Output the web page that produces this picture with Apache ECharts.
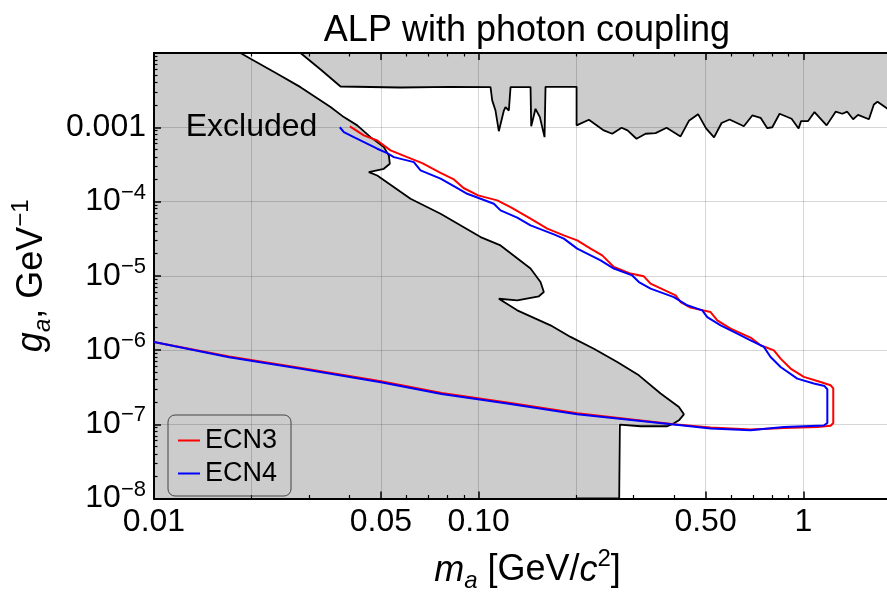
<!DOCTYPE html>
<html><head><meta charset="utf-8">
<script src="https://cdn.jsdelivr.net/npm/echarts@6/dist/echarts.min.js"></script>
<style>html,body{margin:0;padding:0;background:#fff}#c{width:887px;height:592px}</style>
</head><body><div id="c"></div>
<script>
const FONT = '"Liberation Sans", Arial, Helvetica, sans-serif';

// ---- axis ranges / ticks ----
const X_MIN = 0.01, X_MAX = 2, Y_MIN = 1e-8, Y_MAX = 1e-2;
const xMajorTicks = [0.01, 0.05, 0.1, 0.5, 1];
const xMajorLabels = ['0.01', '0.05', '0.10', '0.50', '1'];
const xMinorTicks = [0.02, 0.03, 0.04, 0.06, 0.07, 0.08, 0.09, 0.2, 0.3, 0.4, 0.6, 0.7, 0.8, 0.9];
const xGridValues = [0.02, 0.05, 0.1, 0.2, 0.5, 1, 2];
const yMajorTicks = [1e-8, 1e-7, 1e-6, 1e-5, 1e-4, 1e-3, 1e-2];
const yLabelValues = [1e-8, 1e-7, 1e-6, 1e-5, 1e-4, 1e-3];
const yMinorTicks = [];
for (let e = -8; e <= -3; e++) for (let k = 2; k <= 9; k++) yMinorTicks.push(k * Math.pow(10, e));

// ---- excluded region (left), boundary from top edge down to bottom ----
const leftM = [0.01847, 0.01983, 0.02396, 0.02827, 0.03498, 0.03844, 0.04227, 0.04645, 0.05105, 0.05289,
  0.05326, 0.05105, 0.04589, 0.04871, 0.06168, 0.07633, 0.1014, 0.1168, 0.1445, 0.1551,
  0.1588, 0.1533, 0.1315, 0.1154, 0.1315, 0.1665, 0.1919, 0.2264, 0.2673, 0.3116,
  0.3635, 0.4140, 0.4288, 0.4140, 0.3948, 0.3811, 0.3154, 0.2723, 0.2698, 0.2710, 0.2003];
const leftG = [1e-2, 8.36e-3, 5.25e-3, 3.47e-3, 1.87e-3, 1.37e-3, 1.06e-3, 7.36e-4, 5.40e-4, 4.17e-4,
  3.23e-4, 2.76e-4, 2.49e-4, 2.24e-4, 1.09e-4, 6.85e-5, 3.32e-5, 2.56e-5, 1.25e-5, 8.22e-6,
  6.04e-6, 5.29e-6, 4.67e-6, 4.9e-6, 3.42e-6, 2.15e-6, 1.50e-6, 1.04e-6, 6.89e-7, 4.56e-7,
  2.59e-7, 1.71e-7, 1.36e-7, 1.13e-7, 1.0e-7, 9.4e-8, 9.4e-8, 9.9e-8, 1.04e-7, 1e-8, 1e-8];
const leftCloseM = [0.01, 0.01];
const leftCloseG = [1e-8, 1e-2];

// ---- excluded region (top), lower boundary from left to right ----
const topM = [0.02827, 0.0326, 0.03755, 0.05745, 0.08195, 0.1088, 0.1101, 0.1127, 0.1154, 0.1196,
  0.1210, 0.1239, 0.1254, 0.1445, 0.1452, 0.1497, 0.1544, 0.1596, 0.1607, 0.2003,
  0.2003, 0.2186, 0.2430, 0.2579, 0.2756, 0.2875, 0.3064, 0.3268, 0.3508, 0.3793,
  0.4188, 0.4443, 0.4742, 0.5018, 0.5311, 0.5602, 0.5929, 0.6561, 0.6965, 0.7387,
  0.7747, 0.8027, 0.8453, 0.9204, 0.9674, 0.9845, 1.035, 1.083, 1.180, 1.258,
  1.319, 1.366, 1.424, 1.475, 1.593, 1.650, 1.693, 1.818];
const topG = [1e-2, 6.0e-3, 3.54e-3, 3.43e-3, 3.5e-3, 3.47e-3, 2.30e-3, 1.68e-3, 8.85e-4, 1.68e-3,
  1.87e-3, 1.68e-3, 3.47e-3, 3.47e-3, 1.03e-3, 1.77e-3, 1.37e-3, 7.36e-4, 3.5e-3, 3.5e-3,
  1.06e-3, 1.26e-3, 9.06e-4, 8.18e-4, 9.84e-4, 9.06e-4, 7.0e-4, 8.18e-4, 8.33e-4, 9.84e-4,
  7.52e-4, 1.22e-3, 1.50e-3, 9.64e-4, 7.30e-4, 1.14e-3, 1.27e-3, 1.03e-3, 1.44e-3, 1.34e-3,
  9.70e-4, 1.0e-3, 1.52e-3, 1.30e-3, 9.64e-4, 1.21e-3, 1.21e-3, 1.60e-3, 1.06e-3, 1.62e-3,
  1.52e-3, 1.62e-3, 1.28e-3, 1.47e-3, 1.28e-3, 2.03e-3, 2.20e-3, 1.77e-3];
const topCloseM = [1.818];
const topCloseG = [1e-2];

// ---- ECN3 sensitivity contour ----
const ecn3M = [0.04011, 0.04429, 0.04871, 0.05353, 0.06026, 0.06703, 0.07633, 0.08390, 0.08985, 0.09958,
  0.1141, 0.1254, 0.1445, 0.1627, 0.1830, 0.2012, 0.2212, 0.2403, 0.2609, 0.2938,
  0.3228, 0.3385, 0.4044, 0.4188, 0.4496, 0.5182, 0.5434, 0.5971, 0.6882, 0.7387,
  0.8120, 0.8513, 0.9140, 1.004, 1.130, 1.214, 1.237, 1.237, 1.214, 1.104,
  0.8713, 0.6882, 0.5182, 0.3994, 0.2012, 0.1210, 0.0769, 0.0500, 0.0290, 0.01704, 0.01];
const ecn3G = [1.026e-3, 7.76e-4, 6.64e-4, 4.88e-4, 3.96e-4, 3.29e-4, 2.43e-4, 1.98e-4, 1.52e-4, 1.21e-4,
  1.035e-4, 8.41e-5, 5.86e-5, 4.31e-5, 3.50e-5, 2.99e-5, 2.32e-5, 1.88e-5, 1.31e-5, 1.07e-5,
  9.82e-6, 7.84e-6, 5.45e-6, 4.43e-6, 3.72e-6, 3.24e-6, 2.51e-6, 1.94e-6, 1.47e-6, 1.16e-6,
  9.9e-7, 7.65e-7, 5.62e-7, 4.34e-7, 3.71e-7, 3.35e-7, 3.05e-7, 1.04e-7, 9.55e-8, 9.2e-8,
  8.9e-8, 8.49e-8, 9.03e-8, 1.0e-7, 1.41e-7, 1.98e-7, 2.64e-7, 3.79e-7, 5.64e-7, 8.15e-7, 1.28e-6];

// ---- ECN4 sensitivity contour ----
const ecn4M = [0.03736, 0.03844, 0.04126, 0.04871, 0.05229, 0.05480, 0.06316, 0.06622, 0.07633, 0.08490,
  0.09223, 0.1014, 0.1114, 0.1168, 0.1315, 0.1445, 0.1705, 0.1830, 0.2012, 0.2375,
  0.2609, 0.2973, 0.3116, 0.3385, 0.3994, 0.4392, 0.4885, 0.5062, 0.5564, 0.6262,
  0.6882, 0.7562, 0.7929, 0.8513, 0.9583, 1.078, 1.163, 1.186, 1.186, 1.157,
  0.8713, 0.6882, 0.5182, 0.3994, 0.2012, 0.1210, 0.0769, 0.0500, 0.0290, 0.01704, 0.01];
const ecn4G = [1.0e-3, 8.59e-4, 7.36e-4, 5.14e-4, 4.48e-4, 3.96e-4, 3.39e-4, 2.62e-4, 2.03e-4, 1.56e-4,
  1.27e-4, 1.09e-4, 9.33e-5, 7.59e-5, 6.05e-5, 4.76e-5, 3.61e-5, 3.16e-5, 2.32e-5, 1.61e-5,
  1.25e-5, 1.01e-5, 8.22e-6, 6.70e-6, 5.16e-6, 4.00e-6, 3.42e-6, 2.78e-6, 2.15e-6, 1.66e-6,
  1.35e-6, 1.10e-6, 8.05e-7, 5.90e-7, 4.12e-7, 3.53e-7, 3.27e-7, 2.96e-7, 1.04e-7, 9.6e-8,
  9.2e-8, 8.3e-8, 8.75e-8, 9.9e-8, 1.36e-7, 1.92e-7, 2.56e-7, 3.67e-7, 5.50e-7, 7.98e-7, 1.28e-6];

// ---- texts ----
const titleText = 'ALP with photon coupling';
const regionLabel = 'Excluded';
const seriesNames = ['ECN3', 'ECN4'];
const seriesColors = ['#ff0000', '#0000ff'];

const pairs = (ms, gs) => ms.map((m, i) => [m, gs[i]]);

function polygonSeries(ms, gs) {
  return {
    type: 'custom', coordinateSystem: 'cartesian2d', xAxisIndex: 0, yAxisIndex: 0,
    silent: true, z: 0, clip: true,
    data: [[ms[0], gs[0]]],
    renderItem: (params, api) => ({
      type: 'polygon',
      shape: { points: ms.map((m, i) => api.coord([m, gs[i]])) },
      style: { fill: '#cccccc', stroke: null }
    })
  };
}

const chart = echarts.init(document.getElementById('c'), null, { renderer: 'canvas' });

const black = '#000';
const xBase = { type: 'log', logBase: 10, min: X_MIN, max: X_MAX, gridIndex: 0, z: 1,
  axisLine: { show: false, onZero: false }, axisTick: { show: false }, axisLabel: { show: false }, splitLine: { show: false } };
const yBase = { type: 'log', logBase: 10, min: Y_MIN, max: Y_MAX, gridIndex: 0, z: 1,
  axisLine: { show: false, onZero: false }, axisTick: { show: false }, axisLabel: { show: false }, splitLine: { show: false } };

const option = {
  animation: false,
  backgroundColor: '#fff',
  grid: { left: 154, top: 53, width: 747, height: 445.5, outerBoundsMode: 'none', containLabel: false },
  xAxis: [
    Object.assign({}, xBase, {
      position: 'bottom',
      axisLine: { show: true, onZero: false, lineStyle: { color: black, width: 2 } },
      axisTick: { show: true, inside: true, length: 7, customValues: xMajorTicks, lineStyle: { color: black, width: 1.5 } },
      axisLabel: { show: true, customValues: xMajorTicks, margin: 8, fontSize: 32, fontFamily: FONT, color: black,
        formatter: v => { let bi = 0; xMajorTicks.forEach((t, i) => { if (Math.abs(Math.log10(t) - Math.log10(v)) < Math.abs(Math.log10(xMajorTicks[bi]) - Math.log10(v))) bi = i; }); return xMajorLabels[bi]; } },
      name: '{i|m}{sub|a}{n| [GeV/}{i|c}{sup|2}{n|]}',
      nameLocation: 'middle', nameGap: 49,
      nameTextStyle: { fontSize: 36, fontFamily: FONT, color: black,
        rich: {
          i: { fontSize: 36, fontStyle: 'italic', fontFamily: FONT, color: black, lineHeight: 46 },
          n: { fontSize: 36, fontFamily: FONT, color: black, lineHeight: 46 },
          sub: { fontSize: 24, fontStyle: 'italic', fontFamily: FONT, color: black, lineHeight: 24, verticalAlign: 'bottom' },
          sup: { fontSize: 24, fontFamily: FONT, color: black, lineHeight: 24, verticalAlign: 'top' }
        } }
    }),
    Object.assign({}, xBase, { position: 'bottom',
      axisTick: { show: true, inside: true, length: 3.5, customValues: xMinorTicks, lineStyle: { color: black, width: 1.2 } } }),
    Object.assign({}, xBase, { position: 'bottom',
      axisTick: { show: false, customValues: xGridValues },
      splitLine: { show: true, lineStyle: { color: 'rgba(0,0,0,0.16)', width: 1 } } }),
    Object.assign({}, xBase, { position: 'top',
      axisLine: { show: true, onZero: false, lineStyle: { color: black, width: 2 } },
      axisTick: { show: true, inside: true, length: 7, customValues: xMajorTicks, lineStyle: { color: black, width: 1.5 } } }),
    Object.assign({}, xBase, { position: 'top',
      axisTick: { show: true, inside: true, length: 3.5, customValues: xMinorTicks, lineStyle: { color: black, width: 1.2 } } })
  ],
  yAxis: [
    Object.assign({}, yBase, {
      position: 'left',
      axisLine: { show: true, onZero: false, lineStyle: { color: black, width: 2 } },
      axisTick: { show: true, inside: true, length: 7, customValues: yMajorTicks, lineStyle: { color: black, width: 1.5 } },
      splitLine: { show: true, lineStyle: { color: 'rgba(0,0,0,0.16)', width: 1 } },
      axisLabel: { show: true, customValues: yLabelValues, margin: 8, fontSize: 32, fontFamily: FONT, color: black,
        formatter: v => { const e = Math.round(Math.log10(v)); return e === -3 ? '0.001' : '{b|10}{s|\u2212' + (-e) + '}'; },
        rich: {
          b: { fontSize: 32, fontFamily: FONT, color: black, lineHeight: 40 },
          s: { fontSize: 22, fontFamily: FONT, color: black, lineHeight: 22, verticalAlign: 'top' }
        } },
      name: '{i|g}{sub|a}{n|, GeV}{sup|\u22121}',
      nameLocation: 'middle', nameRotate: 90, nameGap: 96,
      nameTextStyle: { fontSize: 36, fontFamily: FONT, color: black,
        rich: {
          i: { fontSize: 36, fontStyle: 'italic', fontFamily: FONT, color: black, lineHeight: 46 },
          n: { fontSize: 36, fontFamily: FONT, color: black, lineHeight: 46 },
          sub: { fontSize: 24, fontStyle: 'italic', fontFamily: FONT, color: black, lineHeight: 24, verticalAlign: 'bottom' },
          sup: { fontSize: 24, fontFamily: FONT, color: black, lineHeight: 24, verticalAlign: 'top' }
        } }
    }),
    Object.assign({}, yBase, { position: 'left',
      axisTick: { show: true, inside: true, length: 3.5, customValues: yMinorTicks, lineStyle: { color: black, width: 1.2 } } })
  ],
  legend: {
    data: seriesNames, orient: 'vertical', left: 168, top: 415,
    icon: 'rect', itemWidth: 22, itemHeight: 2, itemGap: 6,
    padding: [12, 14, 9, 10],
    borderColor: '#444', borderWidth: 1, borderRadius: 7,
    textStyle: { fontSize: 27, fontFamily: FONT, color: black },
    itemStyle: { borderWidth: 0 }
  },
  graphic: [
    { type: 'text', x: 527, y: 31, silent: true,
      style: { text: titleText, fontSize: 36, fontFamily: FONT, fill: black, align: 'center', verticalAlign: 'middle' } },
    { type: 'text', x: 251.5, y: 127, silent: true, z: 10,
      style: { text: regionLabel, fontSize: 32, fontFamily: FONT, fill: black, align: 'center', verticalAlign: 'middle' } }
  ],
  series: [
    polygonSeries(leftM.concat(leftCloseM), leftG.concat(leftCloseG)),
    polygonSeries(topM.concat(topCloseM), topG.concat(topCloseG)),
    { type: 'line', name: 'leftBoundary', data: pairs(leftM, leftG), showSymbol: false, symbol: 'none', z: 2, silent: true,
      lineStyle: { color: black, width: 1.8 }, itemStyle: { color: black } },
    { type: 'line', name: 'topBoundary', data: pairs(topM, topG), showSymbol: false, symbol: 'none', z: 2, silent: true,
      lineStyle: { color: black, width: 1.8 }, itemStyle: { color: black } },
    { type: 'line', name: seriesNames[0], data: pairs(ecn3M, ecn3G), showSymbol: false, symbol: 'none', z: 3,
      color: seriesColors[0], lineStyle: { color: seriesColors[0], width: 2 }, itemStyle: { color: seriesColors[0] } },
    { type: 'line', name: seriesNames[1], data: pairs(ecn4M, ecn4G), showSymbol: false, symbol: 'none', z: 3,
      color: seriesColors[1], lineStyle: { color: seriesColors[1], width: 2 }, itemStyle: { color: seriesColors[1] } }
  ]
};
chart.setOption(option);
</script></body></html>
